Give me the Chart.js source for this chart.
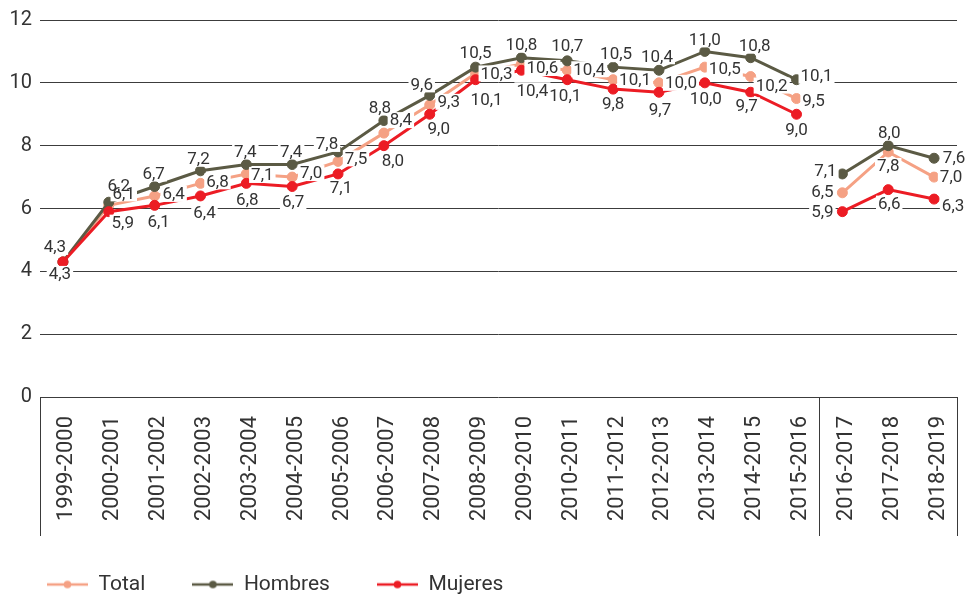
<!DOCTYPE html>
<html lang="es">
<head>
<meta charset="utf-8">
<title>Evolución por curso</title>
<script src="https://cdn.jsdelivr.net/npm/chart.js@4.4.1/dist/chart.umd.min.js"></script>
<style>
  html, body { margin: 0; padding: 0; background: #fff; overflow: hidden; }
  #marco { width: 966px; height: 605px; position: relative; }
</style>
</head>
<body>
<div id="marco"><canvas id="grafico"></canvas></div>
<script>
// Cursos académicos
const cursos = [
  '1999-2000', '2000-2001', '2001-2002', '2002-2003', '2003-2004',
  '2004-2005', '2005-2006', '2006-2007', '2007-2008', '2008-2009',
  '2009-2010', '2010-2011', '2011-2012', '2012-2013', '2013-2014',
  '2014-2015', '2015-2016', '2016-2017', '2017-2018', '2018-2019'
];

// Valores por serie
const total   = [4.3, 6.1, 6.4, 6.8, 7.1, 7.0, 7.5, 8.4, 9.3, 10.3, 10.6, 10.4, 10.1, 10.0, 10.5, 10.2, 9.5, 6.5, 7.8, 7.0];
const hombres = [4.3, 6.2, 6.7, 7.2, 7.4, 7.4, 7.8, 8.8, 9.6, 10.5, 10.8, 10.7, 10.5, 10.4, 11.0, 10.8, 10.1, 7.1, 8.0, 7.6];
const mujeres = [4.3, 5.9, 6.1, 6.4, 6.8, 6.7, 7.1, 8.0, 9.0, 10.1, 10.4, 10.1, 9.8, 9.7, 10.0, 9.7, 9.0, 5.9, 6.6, 6.3];

// Marcas del eje vertical
const marcasEje = [0, 2, 4, 6, 8, 10, 12];

// Primer curso de la nueva serie (la línea no une 2015-2016 con 2016-2017)
const inicioNuevaSerie = 17;

// Desplazamiento de cada etiqueta respecto a su punto (null = sin etiqueta)
const posTotal = [null, [15,-12], [19,-2], [17,-2], [16,1], [19,-4], [18,-3], [17,-13], [19,-3], [21,0],
                  [21,4], [22,-1], [22,0], [22,0], [20,2], [21,9], [17,2], [-20,-1], [0,14], [17,0]];
const posHombres = [[-8,-15], [10,-16], [-1,-13], [-2,-12], [-1,-13], [-1,-13], [-11,-8], [-4,-13], [-8,-11], [0,-14],
                    [0,-13], [0,-15], [3,-13], [-2,-14], [0,-12], [4,-12], [20,-4], [-17,-3], [1,-13], [20,0]];
const posMujeres = [[-3,12], [14,11], [4,16], [4,17], [1,16], [1,15], [3,14], [9,15], [9,14], [11,20],
                    [11,20], [-2,16], [0,15], [1,17], [1,16], [-4,13], [0,15], [-20,0], [1,14], [19,7]];

const COLOR_TOTAL = '#f5a184';
const COLOR_HOMBRES = '#5b5a44';
const COLOR_MUJERES = '#ec1c24';
const COLOR_TEXTO = '#333333';
const FUENTE = 'Roboto, "Liberation Sans", Arial, sans-serif';

function serie(nombre, valores, color, orden, posiciones) {
  return {
    label: nombre,
    data: valores,
    borderColor: color,
    backgroundColor: color,
    pointBackgroundColor: color,
    pointBorderColor: color,
    borderWidth: 3,
    pointRadius: 5,
    pointBorderWidth: 1,
    pointHoverRadius: 5,
    tension: 0,
    order: orden,
    posiciones: posiciones,
    segment: {
      borderColor: ctx => ctx.p1DataIndex === inicioNuevaSerie ? 'rgba(0,0,0,0)' : color
    }
  };
}

// Marca de leyenda: línea corta con un punto en el centro
function marcaLeyenda(color) {
  const c = document.createElement('canvas');
  c.width = 41; c.height = 10;
  const g = c.getContext('2d');
  g.strokeStyle = color; g.lineWidth = 2.5;
  g.beginPath(); g.moveTo(0, 5); g.lineTo(41, 5); g.stroke();
  g.fillStyle = color;
  g.beginPath(); g.arc(20.5, 5, 3.8, 0, Math.PI * 2); g.fill();
  return c;
}
const marcas = [marcaLeyenda(COLOR_TOTAL), marcaLeyenda(COLOR_HOMBRES), marcaLeyenda(COLOR_MUJERES)];

const formato = v => v.toFixed(1).replace('.', ',');

// Etiquetas de valor con fondo blanco sobre las líneas
const etiquetasValor = {
  id: 'etiquetasValor',
  afterDatasetsDraw(chart) {
    const ctx = chart.ctx;
    ctx.save();
    ctx.font = '17px ' + FUENTE;
    ctx.textAlign = 'center';
    ctx.textBaseline = 'middle';
    const items = [];
    chart.data.datasets.forEach((ds, i) => {
      const meta = chart.getDatasetMeta(i);
      meta.data.forEach((pt, j) => {
        const off = ds.posiciones[j];
        if (!off) return;
        const texto = formato(ds.data[j]);
        items.push({ x: pt.x + off[0], y: pt.y + off[1], texto, w: ctx.measureText(texto).width });
      });
    });
    ctx.fillStyle = '#ffffff';
    items.forEach(it => ctx.fillRect(it.x - it.w / 2 - 2, it.y - 8, it.w + 4, 16));
    ctx.fillStyle = COLOR_TEXTO;
    items.forEach(it => ctx.fillText(it.texto, it.x, it.y + 1));
    ctx.restore();
  }
};

// Líneas verticales que separan los cursos en la zona de rótulos
const separadores = {
  id: 'separadores',
  afterDraw(chart) {
    const x = chart.scales.x;
    const ctx = chart.ctx;
    const corte = (x.getPixelForValue(inicioNuevaSerie - 1) + x.getPixelForValue(inicioNuevaSerie)) / 2;
    const top = chart.chartArea.bottom;
    const bottom = top + 139;
    ctx.save();
    ctx.strokeStyle = '#3a3a3a';
    ctx.lineWidth = 1;
    [x.left, corte, x.right].forEach(px => {
      const p = Math.round(px) + 0.5;
      ctx.beginPath(); ctx.moveTo(p, top); ctx.lineTo(p, bottom); ctx.stroke();
    });
    ctx.restore();
  }
};

new Chart(document.getElementById('grafico'), {
  type: 'line',
  data: {
    labels: cursos,
    datasets: [
      serie('Total', total, COLOR_TOTAL, 2, posTotal),
      serie('Hombres', hombres, COLOR_HOMBRES, 1, posHombres),
      serie('Mujeres', mujeres, COLOR_MUJERES, 0, posMujeres)
    ]
  },
  options: {
    responsive: true,
    maintainAspectRatio: false,
    animation: false,
    devicePixelRatio: 1,
    events: [],
    layout: { padding: { top: 20, right: 9, left: 0, bottom: 0 } },
    scales: {
      x: {
        offset: true,
        grid: { display: false, drawTicks: false },
        border: { display: false },
        ticks: {
          minRotation: 90, maxRotation: 90, padding: 19, autoSkip: false, labelOffset: 4,
          color: COLOR_TEXTO, font: { family: FUENTE, size: 22 }
        },
        afterFit: s => { s.height = 130; s.paddingLeft = 0; s.paddingRight = 0; }
      },
      y: {
        min: 0, max: 12,
        afterBuildTicks: s => { s.ticks = marcasEje.map(v => ({ value: v })); },
        grid: { color: '#3c3c3c', lineWidth: 1, drawTicks: false },
        border: { display: false },
        ticks: { padding: 8, color: COLOR_TEXTO, font: { family: FUENTE, size: 20 } },
        afterFit: s => { s.width = 40; }
      }
    },
    plugins: {
      tooltip: { enabled: false },
      legend: {
        position: 'bottom',
        align: 'start',
        labels: {
          usePointStyle: true,
          pointStyleWidth: 41,
          padding: 47,
          color: COLOR_TEXTO,
          font: { family: FUENTE, size: 21 },
          sort: (a, b) => a.datasetIndex - b.datasetIndex,
          generateLabels: chart => Chart.defaults.plugins.legend.labels.generateLabels(chart)
            .map(it => Object.assign(it, { pointStyle: marcas[it.datasetIndex] }))
        }
      }
    }
  },
  plugins: [etiquetasValor, separadores]
});
</script>
</body>
</html>
